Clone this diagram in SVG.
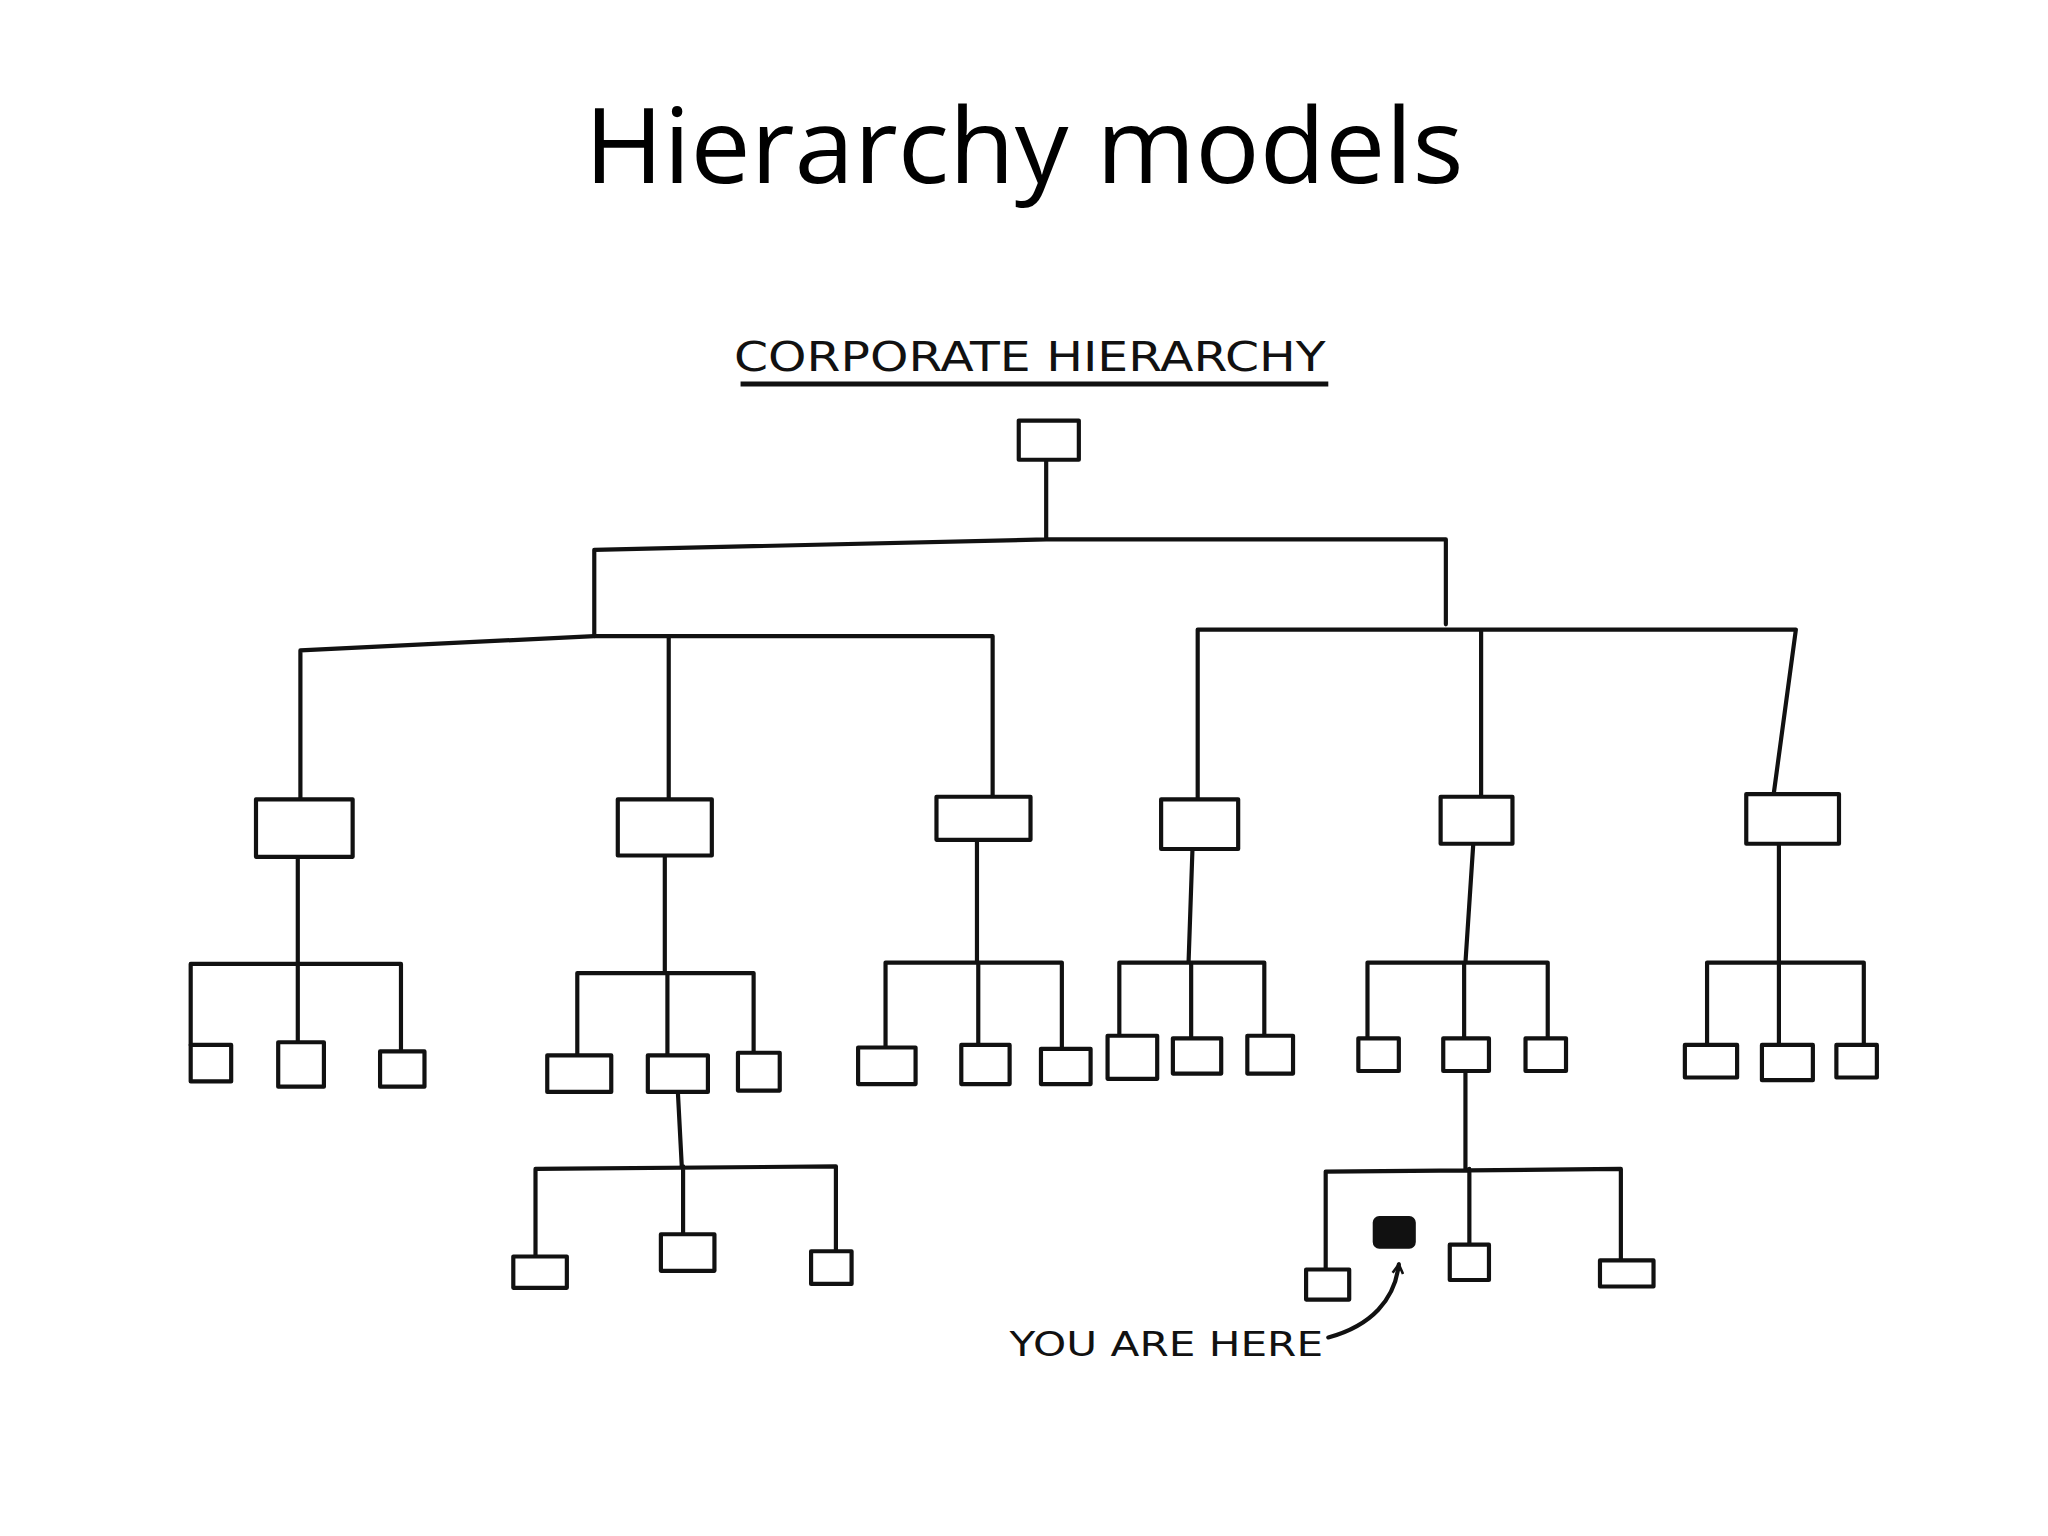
<svg xmlns="http://www.w3.org/2000/svg" width="2048" height="1536" viewBox="0 0 2048 1536">
<style>
.b{fill:#fff;stroke:#111;stroke-width:3.2;stroke-linejoin:round}
.l{fill:none;stroke:#111;stroke-width:3.2;stroke-linecap:round;stroke-linejoin:round}
.h{font-family:"DejaVu Sans",sans-serif;fill:#111}
</style>
<defs><marker id="ah" markerWidth="10" markerHeight="10" refX="8" refY="5" orient="auto" markerUnits="userSpaceOnUse"><path d="M1,1 L8,5 L1,9" fill="none" stroke="#111" stroke-width="2"/></marker></defs>
<rect width="2048" height="1536" fill="#fff"/>
<text x="1024" y="183" text-anchor="middle" font-family="'Open Sans','Liberation Sans',sans-serif" font-size="104" textLength="879" lengthAdjust="spacingAndGlyphs" fill="#000">Hierarchy models</text>
<g transform="scale(1.3061)">
<text class="h" x="562" y="284" font-size="31" textLength="453" lengthAdjust="spacingAndGlyphs">CORPORATE  HIERARCHY</text>
<line x1="567" y1="294" x2="1017" y2="294" stroke="#111" stroke-width="4"/>
<g id="connectors">
<path class="l" d="M801 352V413 M455 487V421 L801 413 L1107 413V478"/>
<path class="l" d="M230 612V498 L455 487 L760 487V612 M512 487V612"/>
<path class="l" d="M917 612V482H1375 L1358 608 M1134 482V610"/>
<path class="l" d="M228 656V740 M146 800V738H307V805 M228 740V798"/>
<path class="l" d="M509 655V745 M442 808V745H577V806 M511 745V808"/>
<path class="l" d="M748 643V737 M678 802V737H813V803 M749 737V800"/>
<path class="l" d="M913 650L910 737 M857 793V737H968V793 M912 737V795"/>
<path class="l" d="M1128 646L1122 737 M1047 795V737H1185V795 M1121 737V795"/>
<path class="l" d="M1362 646V737 M1307 800V737H1427V800 M1362 737V800"/>
<path class="l" d="M519 836L522 893 M410 962V895L640 893V958 M523 893V945"/>
<path class="l" d="M1122 820V895 M1015 972V897L1241 895V965 M1125 895V953"/>
<path class="l" d="M1017 1024 C1050 1015 1068 995 1071 968" marker-end="url(#ah)"/>
</g>
<g id="top"><rect class="b" x="780" y="322" width="46" height="30"/></g>
<g id="mA"><rect class="b" x="196" y="612" width="74" height="44"/></g>
<g id="mB"><rect class="b" x="473" y="612" width="72" height="43"/></g>
<g id="mC"><rect class="b" x="717" y="610" width="72" height="33"/></g>
<g id="mD"><rect class="b" x="889" y="612" width="59" height="38"/></g>
<g id="mE"><rect class="b" x="1103" y="610" width="55" height="36"/></g>
<g id="mF"><rect class="b" x="1337" y="608" width="71" height="38"/></g>
<g id="leaves">
<rect class="b" x="146" y="800" width="31" height="28"/>
<rect class="b" x="213" y="798" width="35" height="34"/>
<rect class="b" x="291" y="805" width="34" height="27"/>
<rect class="b" x="419" y="808" width="49" height="28"/>
<rect class="b" x="496" y="808" width="46" height="28"/>
<rect class="b" x="565" y="806" width="32" height="29"/>
<rect class="b" x="657" y="802" width="44" height="28"/>
<rect class="b" x="736" y="800" width="37" height="30"/>
<rect class="b" x="797" y="803" width="38" height="27"/>
<rect class="b" x="848" y="793" width="38" height="33"/>
<rect class="b" x="898" y="795" width="37" height="27"/>
<rect class="b" x="955" y="793" width="35" height="29"/>
<rect class="b" x="1040" y="795" width="31" height="25"/>
<rect class="b" x="1105" y="795" width="35" height="25"/>
<rect class="b" x="1168" y="795" width="31" height="25"/>
<rect class="b" x="1290" y="800" width="40" height="25"/>
<rect class="b" x="1349" y="800" width="39" height="27"/>
<rect class="b" x="1406" y="800" width="31" height="25"/>
<rect class="b" x="393" y="962" width="41" height="24"/>
<rect class="b" x="506" y="945" width="41" height="28"/>
<rect class="b" x="621" y="958" width="31" height="25"/>
<rect class="b" x="1000" y="972" width="33" height="23"/>
<rect class="b" x="1110" y="953" width="30" height="27"/>
<rect class="b" x="1225" y="965" width="41" height="20"/>
</g>
<g id="you"><rect x="1052" y="932" width="31" height="23" rx="4" fill="#111" stroke="#111" stroke-width="2"/></g>
<text class="h" x="773" y="1038" font-size="26" textLength="240" lengthAdjust="spacingAndGlyphs">YOU ARE  HERE</text>
</g>
</svg>
